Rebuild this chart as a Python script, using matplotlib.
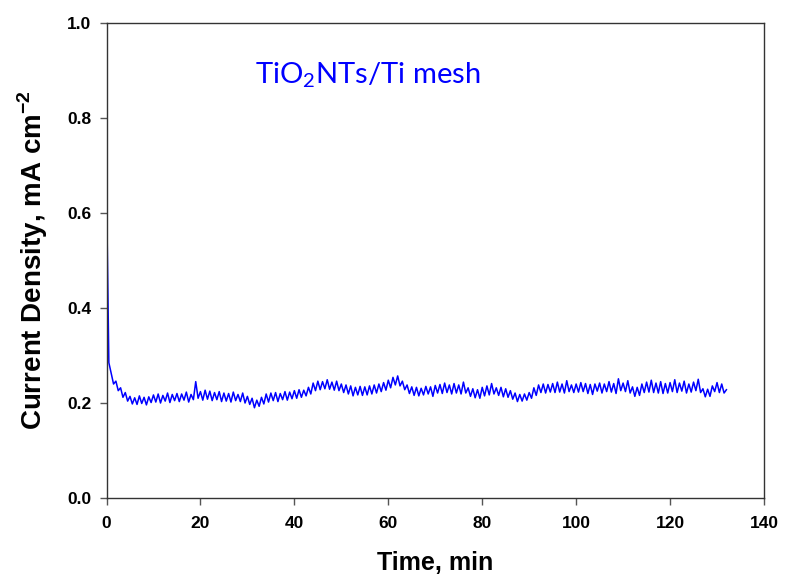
import numpy as np
import matplotlib.pyplot as plt

plt.rcParams['font.family'] = 'Liberation Sans'
plt.rcParams['mathtext.fontset'] = 'custom'
plt.rcParams['mathtext.bf'] = 'Liberation Sans:bold'
plt.rcParams['mathtext.rm'] = 'Lato'

# time in minutes, 0.5 min steps
time = np.arange(0, 132.01, 0.5)

# current density, mA cm-2
current = [
    0.650, 0.285, 0.262, 0.240, 0.246, 0.226, 0.232, 0.212, 0.222, 0.204,
    0.214, 0.198, 0.211, 0.197, 0.215, 0.199, 0.212, 0.196, 0.213, 0.201,
    0.217, 0.202, 0.219, 0.200, 0.216, 0.204, 0.221, 0.201, 0.218, 0.205,
    0.220, 0.203, 0.219, 0.206, 0.223, 0.202, 0.218, 0.207, 0.245, 0.210,
    0.224, 0.206, 0.227, 0.208, 0.225, 0.205, 0.222, 0.207, 0.224, 0.203,
    0.221, 0.204, 0.220, 0.202, 0.223, 0.205, 0.218, 0.203, 0.221, 0.200,
    0.214, 0.197, 0.210, 0.190, 0.206, 0.193, 0.212, 0.198, 0.219, 0.202,
    0.221, 0.205, 0.222, 0.203, 0.220, 0.207, 0.224, 0.206, 0.223, 0.209,
    0.226, 0.210, 0.228, 0.212, 0.227, 0.215, 0.233, 0.219, 0.242, 0.226,
    0.246, 0.228, 0.245, 0.230, 0.249, 0.229, 0.244, 0.227, 0.246, 0.226,
    0.240, 0.222, 0.238, 0.219, 0.236, 0.215, 0.233, 0.217, 0.235, 0.216,
    0.234, 0.217, 0.236, 0.219, 0.238, 0.221, 0.240, 0.224, 0.243, 0.227,
    0.248, 0.232, 0.254, 0.238, 0.257, 0.236, 0.246, 0.228, 0.238, 0.220,
    0.234, 0.216, 0.233, 0.215, 0.231, 0.217, 0.235, 0.219, 0.234, 0.214,
    0.237, 0.221, 0.239, 0.220, 0.242, 0.222, 0.238, 0.219, 0.241, 0.221,
    0.238, 0.219, 0.244, 0.221, 0.232, 0.214, 0.230, 0.211, 0.228, 0.210,
    0.233, 0.215, 0.236, 0.217, 0.241, 0.219, 0.232, 0.216, 0.233, 0.213,
    0.230, 0.212, 0.226, 0.208, 0.221, 0.203, 0.218, 0.204, 0.219, 0.206,
    0.222, 0.210, 0.232, 0.216, 0.238, 0.222, 0.240, 0.221, 0.239, 0.223,
    0.241, 0.222, 0.244, 0.223, 0.240, 0.221, 0.247, 0.224, 0.238, 0.222,
    0.240, 0.223, 0.243, 0.224, 0.241, 0.220, 0.239, 0.218, 0.240, 0.225,
    0.242, 0.221, 0.240, 0.224, 0.245, 0.223, 0.241, 0.220, 0.251, 0.226,
    0.242, 0.224, 0.247, 0.221, 0.234, 0.214, 0.233, 0.216, 0.240, 0.222,
    0.244, 0.223, 0.248, 0.222, 0.242, 0.221, 0.245, 0.220, 0.241, 0.221,
    0.243, 0.224, 0.249, 0.222, 0.242, 0.225, 0.246, 0.221, 0.240, 0.223,
    0.244, 0.226, 0.250, 0.222, 0.230, 0.213, 0.229, 0.214, 0.236, 0.224,
    0.243, 0.222, 0.240, 0.221, 0.228,
]

xticks = [0, 20, 40, 60, 80, 100, 120, 140]
yticks = [0.0, 0.2, 0.4, 0.6, 0.8, 1.0]

fig = plt.figure(figsize=(7.86, 5.85), dpi=100)
ax = fig.add_axes([0.1355, 0.1487, 0.8365, 0.812])

ax.plot(time, current, color='#0000ff', lw=1.1)

ax.set_xlim(0, 140)
ax.set_ylim(0, 1.0)
ax.set_xticks(xticks)
ax.set_yticks(yticks)
ax.set_yticklabels(['%.1f' % v for v in yticks])
ax.tick_params(direction='out', length=5, width=1, color='#555555',
               labelsize=12.5)
ax.tick_params(axis='x', pad=8)
ax.tick_params(axis='y', pad=6)
for lab in ax.get_xticklabels() + ax.get_yticklabels():
    lab.set_fontweight('bold')
for s in ax.spines.values():
    s.set_color('#333333')
    s.set_linewidth(1)

ax.set_xlabel('Time, min', fontsize=18, fontweight='bold', labelpad=14)
ax.set_ylabel(r'Current Density, mA cm$^{\mathbf{-2}}$', fontsize=20,
              fontweight='bold', labelpad=12)

ax.text(0.226, 0.874, r'TiO$_\mathrm{2}$NTs/Ti mesh', transform=ax.transAxes,
        fontsize=21, family='Lato', color='#0000ff', va='baseline')

plt.savefig('out.png', dpi=100)
